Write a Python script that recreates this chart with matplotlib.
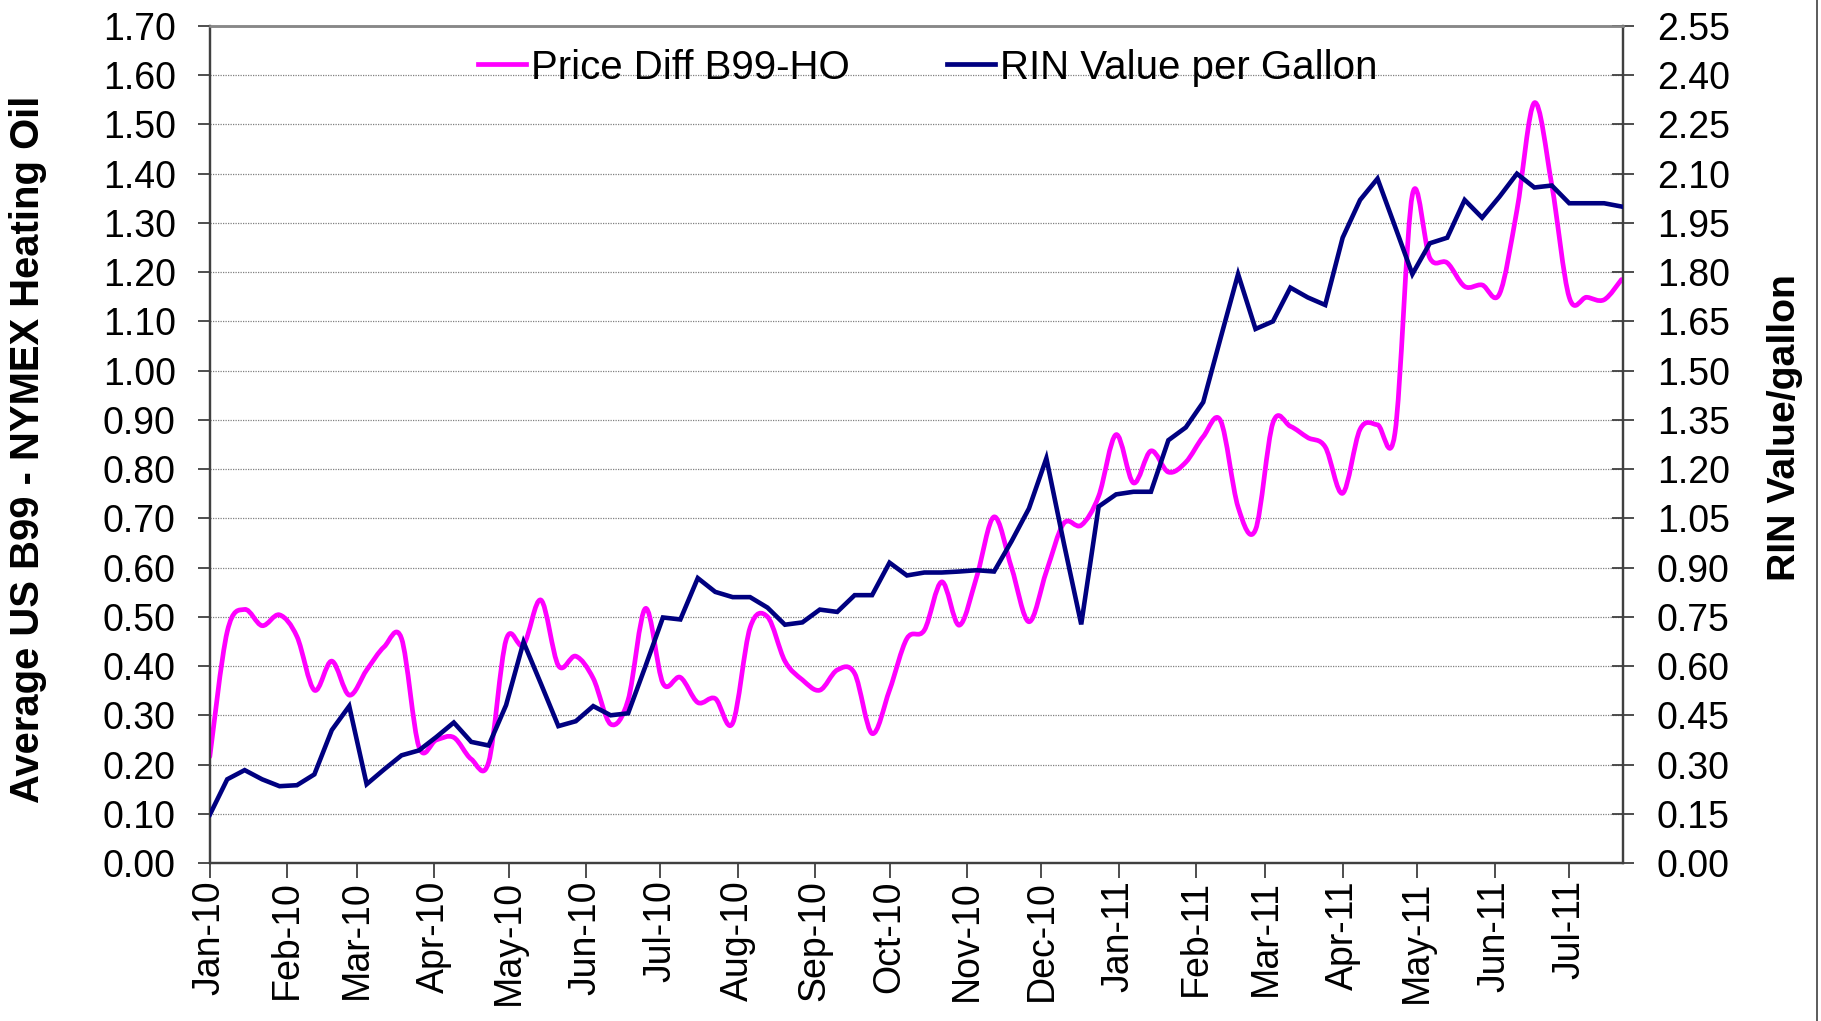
import numpy as np
import pandas as pd
import matplotlib
matplotlib.use("Agg")
import matplotlib.pyplot as plt
import matplotlib.dates as mdates
from matplotlib.path import Path
from matplotlib.patches import PathPatch
from matplotlib.lines import Line2D
from matplotlib.ticker import MultipleLocator, FormatStrFormatter

plt.rcParams['font.family'] = ['Liberation Sans', 'DejaVu Sans']

# ---- data (weekly, starting Jan 1 2010) ----
start_date = "2010-01-01"
n_weeks = 82
dates = pd.date_range(start=start_date, periods=n_weeks, freq="7D")

price_diff = [0.216, 0.470, 0.515, 0.482, 0.504, 0.460, 0.351, 0.410, 0.341, 0.392,
              0.439, 0.456, 0.236, 0.250, 0.255, 0.211, 0.205, 0.453, 0.443, 0.534,
              0.401, 0.420, 0.375, 0.282, 0.331, 0.517, 0.365, 0.377, 0.326, 0.334,
              0.284, 0.478, 0.500, 0.410, 0.372, 0.351, 0.392, 0.385, 0.263, 0.351,
              0.456, 0.473, 0.571, 0.483, 0.581, 0.703, 0.600, 0.490, 0.592, 0.690,
              0.686, 0.745, 0.870, 0.772, 0.837, 0.794, 0.814, 0.866, 0.898, 0.723,
              0.677, 0.894, 0.887, 0.864, 0.845, 0.751, 0.881, 0.890, 0.873, 1.357,
              1.229, 1.219, 1.171, 1.174, 1.156, 1.326, 1.544, 1.377, 1.149, 1.149,
              1.144, 1.185]

rin_value = [0.147, 0.255, 0.283, 0.255, 0.234, 0.237, 0.270, 0.405, 0.478, 0.240,
             0.285, 0.328, 0.343, 0.384, 0.428, 0.369, 0.358, 0.481, 0.673, 0.546,
             0.417, 0.432, 0.478, 0.450, 0.456, 0.600, 0.748, 0.742, 0.868, 0.826,
             0.810, 0.810, 0.778, 0.726, 0.733, 0.772, 0.765, 0.816, 0.816, 0.915,
             0.876, 0.885, 0.885, 0.888, 0.892, 0.888, 0.980, 1.080, 1.233, 0.975,
             0.727, 1.086, 1.123, 1.131, 1.131, 1.288, 1.327, 1.404, 1.600, 1.794,
             1.627, 1.650, 1.753, 1.723, 1.700, 1.905, 2.020, 2.085, 1.940, 1.794,
             1.888, 1.905, 2.020, 1.966, 2.030, 2.100, 2.058, 2.064, 2.010, 2.010,
             2.010, 2.000]

label_price = "Price Diff B99-HO"
label_rin = "RIN Value per Gallon"
ylabel_left = "Average US B99 - NYMEX Heating Oil"
ylabel_right = "RIN Value/gallon"

MAGENTA = "#FF00FF"
NAVY = "#000080"
AXC = "#404040"

fig = plt.figure(figsize=(18.21, 10.21), dpi=100)
ax = fig.add_axes([209.8 / 1821, 1 - 863 / 1021, (1623 - 209.8) / 1821, (863 - 26) / 1021])
ax2 = ax.twinx()

x = mdates.date2num(dates)
y = np.asarray(price_diff, dtype=float)

# smoothed line (Excel-style Bezier through the points)
verts = [(x[0], y[0])]
codes = [Path.MOVETO]
n = len(x)
for i in range(n - 1):
    p0 = np.array([x[max(i - 1, 0)], y[max(i - 1, 0)]])
    p1 = np.array([x[i], y[i]])
    p2 = np.array([x[i + 1], y[i + 1]])
    p3 = np.array([x[min(i + 2, n - 1)], y[min(i + 2, n - 1)]])
    c1 = p1 + (p2 - p0) / 6.0
    c2 = p2 - (p3 - p1) / 6.0
    verts += [tuple(c1), tuple(c2), tuple(p2)]
    codes += [Path.CURVE4] * 3
patch = PathPatch(Path(verts, codes), fill=False, edgecolor=MAGENTA, lw=3.4,
                  capstyle='round', joinstyle='round', zorder=3)
ax.add_patch(patch)

ax2.plot(dates, rin_value, color=NAVY, lw=3.3, solid_joinstyle='miter', zorder=4)

# axes limits
ax.set_xlim(x[0], x[-1] + 0.6)
ax.set_ylim(0, 1.70)
ax2.set_ylim(0, 2.55)

ax.yaxis.set_major_locator(MultipleLocator(0.10))
ax.yaxis.set_major_formatter(FormatStrFormatter('%.2f'))
ax2.yaxis.set_major_locator(MultipleLocator(0.15))
ax2.yaxis.set_major_formatter(FormatStrFormatter('%.2f'))

ax.xaxis.set_major_locator(mdates.MonthLocator())
ax.xaxis.set_major_formatter(mdates.DateFormatter('%b-%y'))

ax.grid(axis='y', color='#808080', lw=0.9, linestyle=(0, (1, 1)))
ax.set_axisbelow(True)

ax.tick_params(axis='y', direction='out', length=8.6, width=1.3, color=AXC,
               labelsize=27, pad=16)
ax.tick_params(axis='x', direction='out', length=10.5, width=1.3, color=AXC,
               labelsize=27, pad=2, labelrotation=90)
ax2.tick_params(axis='y', direction='inout', length=16.5, width=1.3, color=AXC,
                labelsize=27, pad=16)

for s in ['left', 'right', 'bottom']:
    ax.spines[s].set_color(AXC)
    ax.spines[s].set_linewidth(1.6)
    ax2.spines[s].set_color(AXC)
    ax2.spines[s].set_linewidth(1.6)
ax.spines['top'].set_color('#888888')
ax.spines['top'].set_linewidth(1.8)
ax2.spines['top'].set_color('#888888')
ax2.spines['top'].set_linewidth(1.8)

fig.text(28 / 1821, 1 - 449 / 1021, ylabel_left, rotation=90, ha='center', va='center',
         fontsize=28.8, fontweight='bold')
fig.text(1785 / 1821, 1 - 428 / 1021, ylabel_right, rotation=90, ha='center', va='center',
         fontsize=28.3, fontweight='bold')

handles = [Line2D([], [], color=MAGENTA, lw=3.4), Line2D([], [], color=NAVY, lw=3.4)]
leg = ax2.legend(handles, [label_price, label_rin], loc='center',
                 bbox_to_anchor=(0.508, 0.9504), ncol=2, frameon=False,
                 fontsize=29, handlelength=1.2, handletextpad=0.12, columnspacing=2.4)

# chart-area border at the right edge
fig.add_artist(Line2D([1817 / 1821, 1817 / 1821], [0, 1], color='#404040', lw=1.2,
                      transform=fig.transFigure))

fig.savefig("out.png", dpi=100)
